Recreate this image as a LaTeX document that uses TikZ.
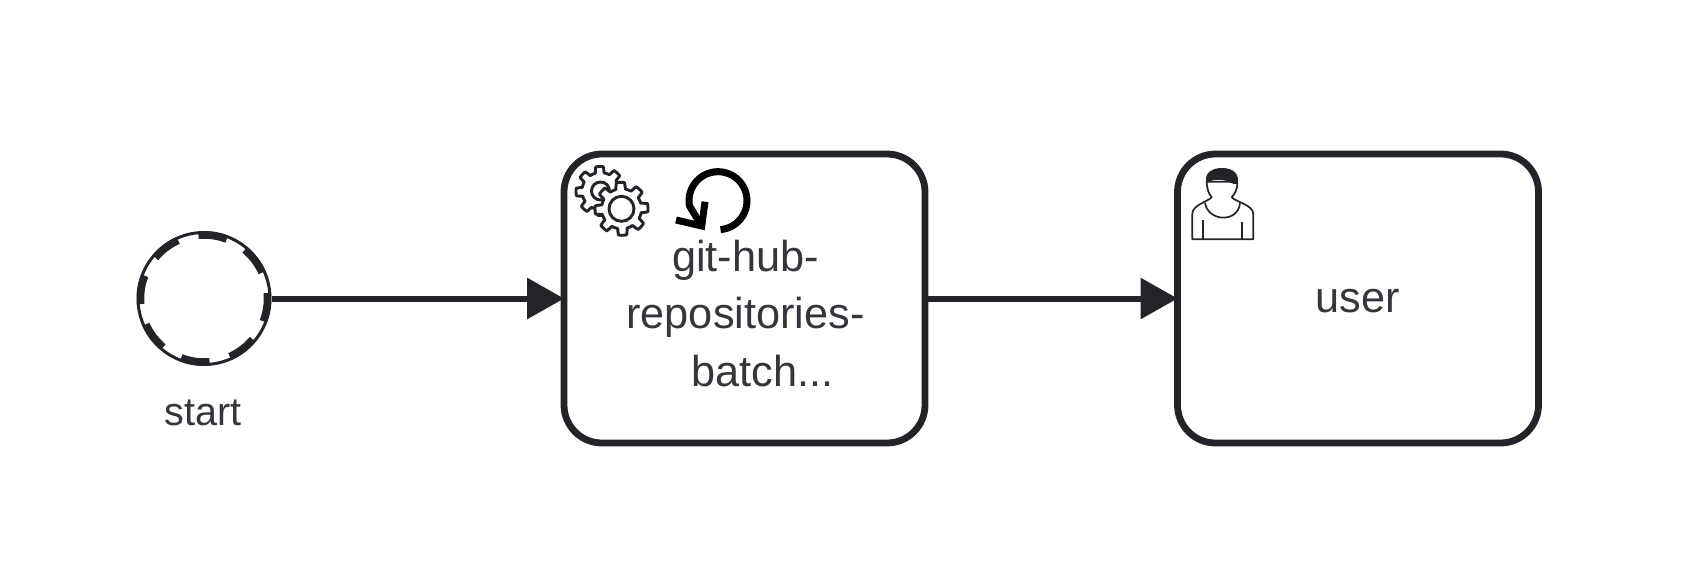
\documentclass[tikz,border=0pt]{standalone}
\usepackage{fontspec}
\setmainfont{Liberation Sans}
\usetikzlibrary{arrows.meta}
\definecolor{ink}{HTML}{22242A}
\tikzset{
  x=1pt,y=-1pt,
  taskbox/.style={draw=ink,line width=6.8pt,rounded corners=38pt,minimum width=361pt,minimum height=289pt,fill=white},
  startev/.style={circle,draw=ink,line width=3pt,minimum size=132pt,inner sep=0pt,fill=white},
  flow/.style={draw=ink,line width=6pt,shorten >=-3.5pt,-{Triangle[length=37pt,width=40pt,fill=ink]}},
  tasktext/.style={text=ink!92!white,font=\fontsize{43.3}{57.5}\selectfont,inner sep=0pt,align=center},
  geartooth/.style={draw=ink,line width=2.9pt,fill=white,line join=round},
  usermark/.style={draw=ink,line width=1.7pt,line join=round},
}
\newcommand{\gearshape}[4]{% cx cy rin rout
  \draw[geartooth,samples=321,domain=0:360] plot ({#1+(#3+(#4-#3)*min(1,max(0,0.5+1.5*cos(8*\x+20))))*cos(\x)},{#2+(#3+(#4-#3)*min(1,max(0,0.5+1.5*cos(8*\x+20))))*sin(\x)}) -- cycle;
}
\begin{document}
\begin{tikzpicture}
\useasboundingbox (0,0) rectangle (1684,568);
\fill[white] (0,0) rectangle (1684,568);
% nodes
\node[startev] (start) at (204,298.5) {};
\foreach \a in {-95,-50,-5,40,85,130,175,220}{
  \draw[ink,line width=7.5pt,domain=\a:\a+26,samples=14] plot ({204+63.5*cos(\x)},{298.5+63.5*sin(\x)});
}
\node[text=ink!92!white,font=\fontsize{39.5}{46}\selectfont,anchor=base,inner sep=0pt] (startlabel) at (203,425) {start};
\node[taskbox] (batch) at (744.5,298.5) {};
\node[taskbox] (user) at (1358,298.5) {};
\node[tasktext] (batchlabel) at (745.5,313.5) {git-hub-\\repositories-\\\hspace*{34pt}batch...};
\node[tasktext,anchor=base] (userlabel) at (1358,312.5) {user};
% connectors
\draw[flow] (start) -- (batch);
\draw[flow] (batch) -- (user);
% service markers
\gearshape{600.5}{191}{18.5}{24.5}
\draw[ink,line width=2.9pt] (600.5,191) circle[radius=9];
\gearshape{621.5}{208.8}{20}{26.5}
\draw[ink,line width=2.9pt] (621.5,208.8) circle[radius=12.5];
% loop marker
\draw[black,line width=7pt,domain=85:-190,samples=60] plot ({718+29*cos(\x)},{200.7+29*sin(\x)}) -- (701,225);
\draw[black,line width=7pt,miter limit=10] (676,220) -- (701.7,226) -- (705,201.7);
% user marker
\draw[usermark,fill=white]
  (1206.7,181.7) .. controls (1207,190) and (1209,194) .. (1211.7,197.3)
  .. controls (1207,202) and (1192.3,205) .. (1192.3,214) -- (1192.3,239.3) -- (1253.3,239.3) -- (1253.3,214)
  .. controls (1253.3,205) and (1236,202) .. (1231.7,197.3)
  .. controls (1235,193) and (1237.5,190) .. (1237.3,181.7) -- cycle;
\draw[usermark] (1205,202.7) .. controls (1208,222) and (1238,223) .. (1240,203.3);
\draw[usermark] (1202.7,220) -- (1202.7,239.3);
\draw[usermark] (1242.3,221.7) -- (1242.3,239.3);
\fill[ink] (1206.5,182) .. controls (1204,174) and (1211,168) .. (1222,168) .. controls (1233,168) and (1240,174) .. (1237.5,184) .. controls (1232,185) and (1228,180) .. (1222,180) .. controls (1215,179) and (1211,181) .. (1206.5,182) -- cycle;
\end{tikzpicture}
\end{document}
